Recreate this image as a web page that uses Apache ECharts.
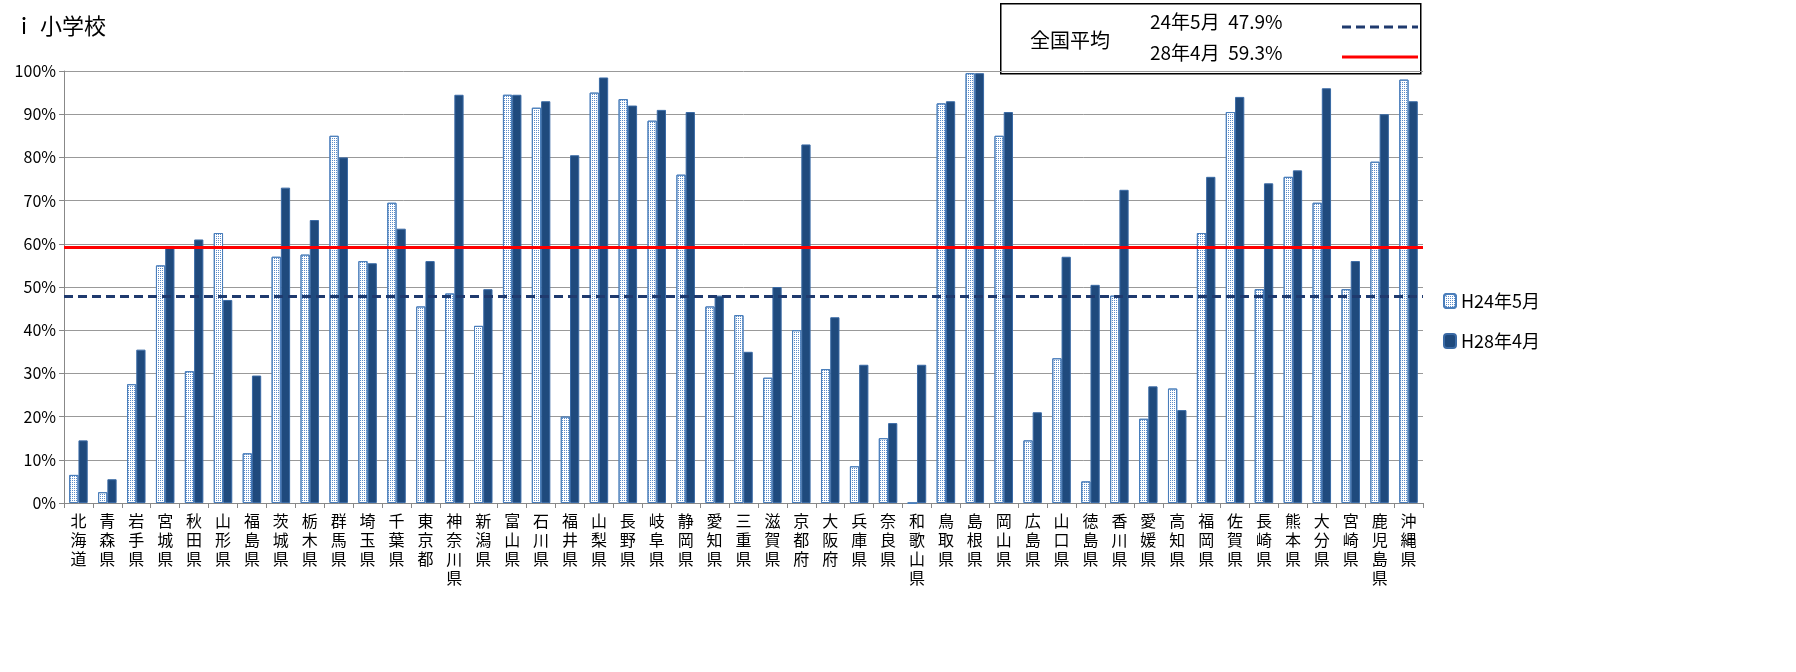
<!DOCTYPE html>
<html style="height: 100%">
<head>
    <meta charset="utf-8">
    <title>小学校</title>
    <script src="https://cdn.jsdelivr.net/npm/echarts@6/dist/echarts.min.js"></script>
</head>
<body style="height: 100%; margin: 0; background: #fff">
<div id="chart1" style="width:1796px;height:672px"></div>
<script type="text/javascript">
    // 都道府県
    var prefs = ['北海道','青森県','岩手県','宮城県','秋田県','山形県','福島県','茨城県','栃木県','群馬県',
        '埼玉県','千葉県','東京都','神奈川県','新潟県','富山県','石川県','福井県','山梨県','長野県',
        '岐阜県','静岡県','愛知県','三重県','滋賀県','京都府','大阪府','兵庫県','奈良県','和歌山県',
        '鳥取県','島根県','岡山県','広島県','山口県','徳島県','香川県','愛媛県','高知県','福岡県',
        '佐賀県','長崎県','熊本県','大分県','宮崎県','鹿児島県','沖縄県'];
    var h24 = [6.5, 2.5, 27.5, 55, 30.5, 62.5, 11.5, 57, 57.5, 85,
        56, 69.5, 45.5, 48.5, 41, 94.5, 91.5, 20, 95, 93.5,
        88.5, 76, 45.5, 43.5, 29, 40, 31, 8.5, 15, 0,
        92.5, 99.5, 85, 14.5, 33.5, 5, 48, 19.5, 26.5, 62.5,
        90.5, 49.5, 75.5, 69.5, 49.5, 79, 98];
    var h28 = [14.5, 5.5, 35.5, 59.5, 61, 47, 29.5, 73, 65.5, 80,
        55.5, 63.5, 56, 94.5, 49.5, 94.5, 93, 80.5, 98.5, 92,
        91, 90.5, 48, 35, 50, 83, 43, 32, 18.5, 32,
        93, 99.5, 90.5, 21, 57, 50.5, 72.5, 27, 21.5, 75.5,
        94, 74, 77, 96, 56, 90, 93];
    var avg24 = 47.9;
    var avg28 = 59.3;

    var myChart1 = echarts.init(document.getElementById('chart1'));
    var font = '"Noto Sans CJK JP", sans-serif';

    myChart1.setOption({
        animation: false,
        textStyle: {fontFamily: font},
        title: {
            text: 'ｉ 小学校', left: 8, top: 10,
            textStyle: {fontSize: 22, fontWeight: 'normal', color: '#000', fontFamily: font}
        },
        legend: {
            orient: 'vertical', left: 1438, top: 287, itemGap: 22,
            itemWidth: 12, itemHeight: 14,
            textStyle: {fontSize: 18, color: '#000', fontFamily: font},
            data: ['H24年5月', 'H28年4月']
        },
        grid: {left: 64, right: 373, top: 71, bottom: 169},
        xAxis: {
            type: 'category', data: prefs,
            axisTick: {show: true, alignWithLabel: false, length: 5, lineStyle: {color: '#888'}},
            axisLine: {lineStyle: {color: '#888'}},
            axisLabel: {
                interval: 0, color: '#000', fontSize: 16, lineHeight: 19,
                formatter: function (v) { return v.split('').join('\n'); }
            }
        },
        yAxis: {
            type: 'value', min: 0, max: 100, interval: 10,
            axisLine: {show: true, lineStyle: {color: '#888'}},
            axisTick: {show: true, lineStyle: {color: '#888'}},
            axisLabel: {formatter: '{value}%', color: '#000', fontSize: 16},
            splitLine: {lineStyle: {color: '#999'}}
        },
        series: [
            {
                name: 'H24年5月', type: 'bar', data: h24, barGap: '0%', barCategoryGap: '36%',
                itemStyle: {
                    color: '#ffffff', borderColor: '#4a7ebb', borderWidth: 1,
                    decal: {symbol: 'rect', symbolSize: 1, color: '#5b8bc8',
                        dashArrayX: [1, 1], dashArrayY: [1, 1], rotation: 0}
                },
                markLine: {
                    symbol: 'none', silent: true, label: {show: false},
                    data: [
                        {yAxis: avg24, lineStyle: {color: '#1f3a6e', type: [9, 5], width: 3}},
                        {yAxis: avg28, lineStyle: {color: '#ff0000', type: 'solid', width: 3}}
                    ]
                }
            },
            {
                name: 'H28年4月', type: 'bar', data: h28,
                itemStyle: {color: '#1f4a7d', borderColor: '#3a6aa5', borderWidth: 1}
            }
        ],
        graphic: [
            {type: 'rect', left: 1000, top: 3, shape: {width: 420, height: 70},
                style: {fill: '#fff', stroke: '#000', lineWidth: 1.5}},
            {type: 'text', left: 1030, top: 30,
                style: {text: '全国平均', font: '20px ' + font, fill: '#000'}},
            {type: 'text', left: 1150, top: 12,
                style: {text: '24年5月  47.9%', font: '19px ' + font, fill: '#000'}},
            {type: 'text', left: 1150, top: 43,
                style: {text: '28年4月  59.3%', font: '19px ' + font, fill: '#000'}},
            {type: 'line', shape: {x1: 1342, y1: 27, x2: 1418, y2: 27},
                style: {stroke: '#1f3a6e', lineWidth: 3, lineDash: [9, 5]}},
            {type: 'line', shape: {x1: 1342, y1: 57, x2: 1418, y2: 57},
                style: {stroke: '#ff0000', lineWidth: 3}}
        ]
    });
</script>
</body>
</html>
